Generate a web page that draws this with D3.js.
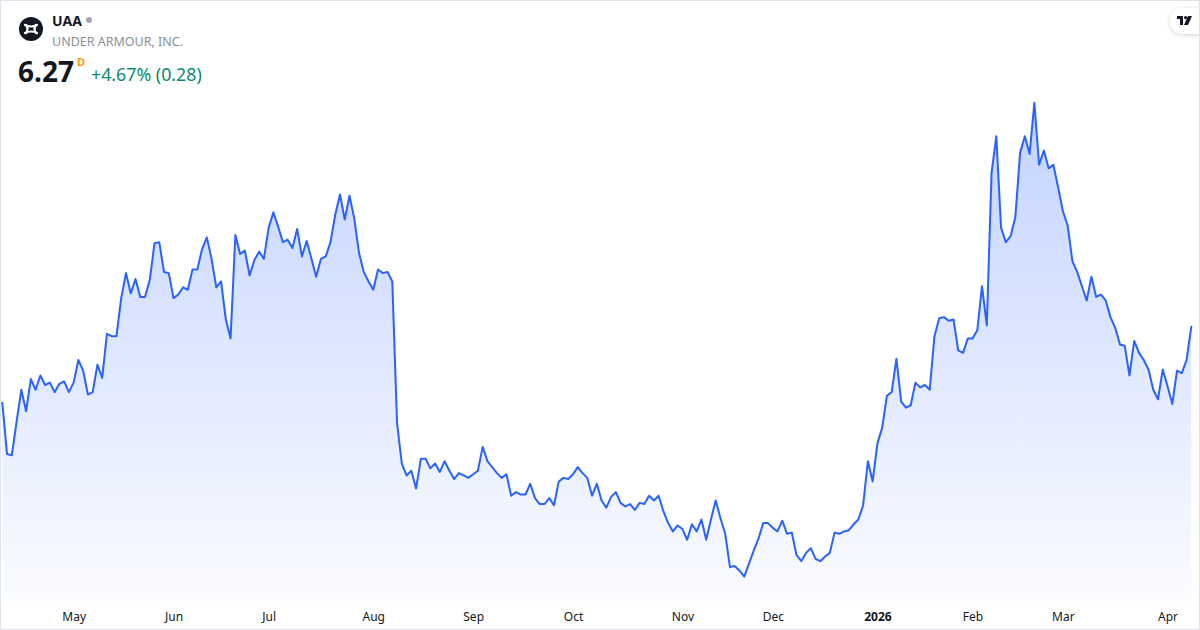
<!DOCTYPE html>
<html>
<head>
<meta charset="utf-8">
<script src="https://cdn.jsdelivr.net/npm/d3@7"></script>
<style>
  html, body { margin: 0; padding: 0; background: #ffffff; }
  svg { display: block; }
  text { font-family: "Noto Sans", "Open Sans", "Liberation Sans", sans-serif; }
</style>
</head>
<body>
<svg id="chart" width="1200" height="630"></svg>
<script>
// ---- data ----
const symbol = "UAA";
const companyName = "UNDER ARMOUR, INC.";
const lastPrice = "6.27";
const intervalLabel = "D";
const changeText = "+4.67% (0.28)";

// daily closes (trading-day index 0..250)
const closes = [
  5.63, 5.20, 5.19, 5.47, 5.74, 5.56, 5.83, 5.74, 5.86, 5.78,
  5.80, 5.72, 5.79, 5.81, 5.72, 5.80, 5.99, 5.90, 5.70, 5.72,
  5.95, 5.84, 6.21, 6.19, 6.19, 6.51, 6.72, 6.55, 6.67, 6.52,
  6.52, 6.66, 6.97, 6.98, 6.73, 6.72, 6.51, 6.54, 6.60, 6.58,
  6.75, 6.75, 6.92, 7.02, 6.84, 6.60, 6.65, 6.33, 6.17, 7.04,
  6.88, 6.91, 6.70, 6.83, 6.90, 6.84, 7.10, 7.23, 7.11, 6.98,
  7.00, 6.93, 7.09, 6.86, 6.99, 6.84, 6.69, 6.84, 6.86, 6.98,
  7.21, 7.38, 7.17, 7.37, 7.18, 6.89, 6.73, 6.65, 6.58, 6.75,
  6.72, 6.73, 6.65, 5.46, 5.12, 5.02, 5.06, 4.91, 5.16, 5.16,
  5.08, 5.12, 5.05, 5.14, 5.06, 4.99, 5.04, 5.02, 5.00, 5.03,
  5.06, 5.26, 5.14, 5.09, 5.04, 5.00, 5.03, 4.85, 4.88, 4.86,
  4.86, 4.95, 4.83, 4.78, 4.78, 4.83, 4.77, 4.97, 5.00, 4.99,
  5.03, 5.09, 5.04, 5.00, 4.85, 4.95, 4.81, 4.75, 4.84, 4.88,
  4.79, 4.76, 4.78, 4.73, 4.79, 4.78, 4.85, 4.81, 4.85, 4.72,
  4.62, 4.55, 4.60, 4.57, 4.48, 4.61, 4.55, 4.65, 4.48, 4.65,
  4.81, 4.66, 4.53, 4.25, 4.26, 4.22, 4.17, 4.28, 4.39, 4.49,
  4.62, 4.62, 4.58, 4.55, 4.64, 4.53, 4.54, 4.35, 4.30, 4.37,
  4.41, 4.32, 4.30, 4.34, 4.37, 4.54, 4.53, 4.55, 4.56, 4.61,
  4.65, 4.77, 5.14, 4.97, 5.29, 5.42, 5.69, 5.72, 6.00, 5.64,
  5.59, 5.61, 5.80, 5.76, 5.78, 5.74, 6.19, 6.34, 6.35, 6.32,
  6.33, 6.07, 6.05, 6.17, 6.17, 6.24, 6.61, 6.28, 7.56, 7.87,
  7.10, 6.98, 7.03, 7.19, 7.73, 7.87, 7.72, 8.15, 7.63, 7.75,
  7.60, 7.63, 7.44, 7.24, 7.12, 6.82, 6.73, 6.61, 6.49, 6.69,
  6.52, 6.54, 6.49, 6.35, 6.26, 6.12, 6.11, 5.86, 6.15, 6.05,
  5.99, 5.91, 5.74, 5.66, 5.91, 5.77, 5.62, 5.90, 5.88, 5.99,
  6.27
];

// month labels and the trading-day index of each month's first session
const tickIndex  = [15, 36, 56, 78, 99, 120, 143, 162, 184, 204, 223, 245];
const tickLabels = ["May", "Jun", "Jul", "Aug", "Sep", "Oct", "Nov", "Dec", "2026", "Feb", "Mar", "Apr"];
const boldTicks  = ["2026"];

// ---- drawing ----
const W = 1200, H = 630;
const svg = d3.select("#chart");

const x = d3.scaleLinear().domain([0, closes.length - 1]).range([2.3, 1191.3]);
const y = d3.scaleLinear().domain([4.0, 8.5]).range([596.9, 61.2]);
const baseY = 601;

// frame
svg.append("rect").attr("x", 0.5).attr("y", 0.5).attr("width", W - 1).attr("height", H - 1)
  .attr("fill", "#ffffff").attr("stroke", "#e0e3eb").attr("stroke-width", 1);

const defs = svg.append("defs");
const grad = defs.append("linearGradient").attr("id", "areaGrad")
  .attr("gradientUnits", "userSpaceOnUse").attr("x1", 0).attr("x2", 0)
  .attr("y1", y(d3.max(closes))).attr("y2", baseY);
grad.append("stop").attr("offset", "0%").attr("stop-color", "#2962ff").attr("stop-opacity", 0.28);
grad.append("stop").attr("offset", "100%").attr("stop-color", "#2962ff").attr("stop-opacity", 0.02);

const filt = defs.append("filter").attr("id", "shadow").attr("x", "-50%").attr("y", "-50%").attr("width", "200%").attr("height", "200%");
filt.append("feDropShadow").attr("dx", 0).attr("dy", 1).attr("stdDeviation", 2).attr("flood-color", "#000").attr("flood-opacity", 0.18);

const area = d3.area().x((d, i) => x(i)).y0(baseY).y1(d => y(d));
const line = d3.line().x((d, i) => x(i)).y(d => y(d));

svg.append("path").datum(closes).attr("d", area).attr("fill", "url(#areaGrad)");
svg.append("path").datum(closes).attr("d", line).attr("fill", "none")
  .attr("stroke", "#2962ff").attr("stroke-width", 2).attr("stroke-linejoin", "round").attr("stroke-linecap", "round");

// x axis
const xAxis = d3.axisBottom(x).tickValues(tickIndex)
  .tickFormat((d, i) => tickLabels[i]).tickSize(0).tickPadding(3);
const gx = svg.append("g").attr("transform", `translate(0,${609})`).call(xAxis);
gx.select(".domain").remove();
gx.selectAll("text")
  .attr("fill", "#131722")
  .style("font-size", "12px")
  .style("font-family", "\"Noto Sans\", \"Open Sans\", sans-serif")
  .style("font-weight", (d, i) => boldTicks.includes(tickLabels[i]) ? "700" : "400");

// header
const hdr = svg.append("g");
hdr.append("circle").attr("cx", 31).attr("cy", 29).attr("r", 12).attr("fill", "#131722");
// simplified UA mark
const ua = hdr.append("g").attr("transform", "translate(31,29)").attr("fill", "none")
  .attr("stroke", "#ffffff").attr("stroke-width", 2.2).attr("stroke-linecap", "round");
ua.append("path").attr("d", "M-6,-4 Q0,-1 6,-4");
ua.append("path").attr("d", "M-6,4 Q0,1 6,4");
ua.append("path").attr("d", "M-5,-4 Q-2,0 -5,4");
ua.append("path").attr("d", "M5,-4 Q2,0 5,4");

hdr.append("text").attr("x", 52).attr("y", 26).text(symbol)
  .attr("fill", "#131722").style("font-size", "14px").style("font-weight", "700");
hdr.append("circle").attr("cx", 89).attr("cy", 20).attr("r", 3).attr("fill", "#a3a6af");
hdr.append("text").attr("x", 52).attr("y", 46).text(companyName)
  .attr("fill", "#8c8f99").style("font-size", "12.5px");
hdr.append("text").attr("x", 18).attr("y", 82).text(lastPrice)
  .attr("fill", "#131722").style("font-size", "28px").style("font-weight", "700");
hdr.append("text").attr("x", 77).attr("y", 66).text(intervalLabel)
  .attr("fill", "#ff9800").style("font-size", "11px").style("font-weight", "700");
hdr.append("text").attr("x", 91).attr("y", 81).text(changeText)
  .attr("fill", "#0b8a6b").style("font-size", "17.8px");

// TradingView badge (top right)
const badge = svg.append("g");
badge.append("rect").attr("x", 1170).attr("y", 8).attr("width", 40).attr("height", 26).attr("rx", 13)
  .attr("fill", "#ffffff").attr("filter", "url(#shadow)");
const tv = badge.append("g").attr("transform", "translate(1177,16)").attr("fill", "#131722");
tv.append("path").attr("d", "M0,0 H6 V9 H3 V3 H0 Z");
tv.append("circle").attr("cx", 8.6).attr("cy", 1.6).attr("r", 1.6);
tv.append("path").attr("d", "M11,0 H15 L11,9 H7 Z");
// re-draw frame edge on right over badge
svg.append("line").attr("x1", W - 0.5).attr("x2", W - 0.5).attr("y1", 0).attr("y2", H)
  .attr("stroke", "#e0e3eb");
</script>
</body>
</html>
